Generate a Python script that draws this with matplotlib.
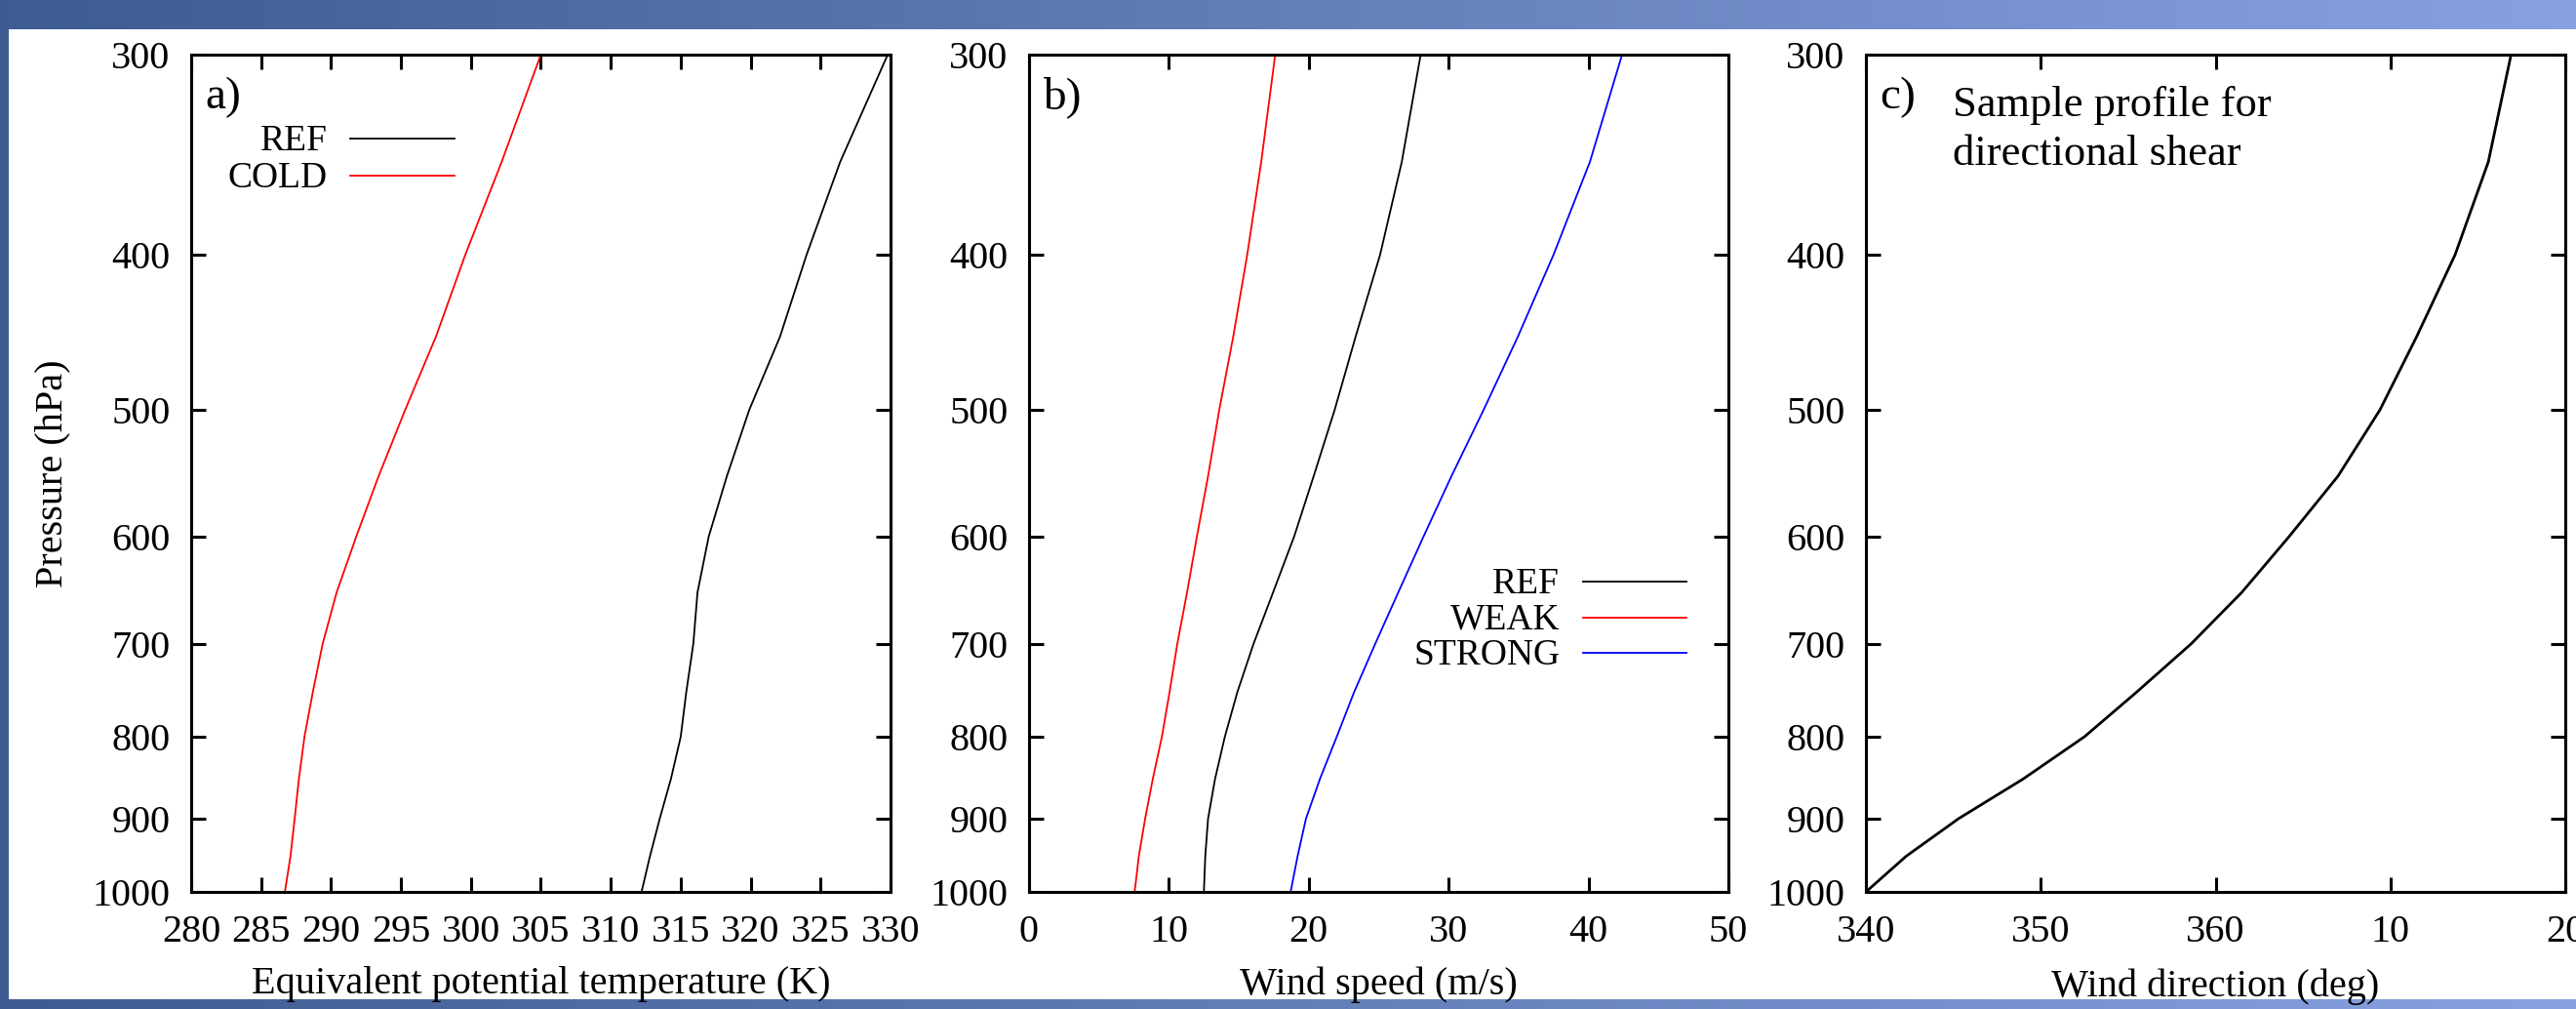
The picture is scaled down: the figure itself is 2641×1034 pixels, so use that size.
import numpy as np
import matplotlib
matplotlib.use("Agg")
import matplotlib.pyplot as plt
from matplotlib.patches import Rectangle
from matplotlib.ticker import FixedLocator, FixedFormatter, NullLocator

plt.rcParams['font.family'] = ['Liberation Serif', 'DejaVu Serif']

# ---------------- data ----------------
pressure = [300, 350, 400, 450, 500, 550, 600, 650, 700, 750, 800, 850, 900, 950, 1000]

theta_e_ref = [329.8, 326.4, 324.0, 322.1, 319.9, 318.3, 317.0, 316.2, 315.9, 315.4,
               315.0, 314.3, 313.5, 312.8, 312.2]
theta_e_cold = [305.0, 302.2, 299.6, 297.5, 295.3, 293.4, 291.8, 290.4, 289.4, 288.7,
                288.1, 287.7, 287.4, 287.1, 286.7]

wspd_ref = [28.0, 26.65, 25.1, 23.35, 21.85, 20.35, 18.95, 17.45, 16.05, 14.9,
            14.0, 13.3, 12.8, 12.6, 12.5]
wspd_weak = [17.6, 16.6, 15.6, 14.6, 13.6, 12.8, 12.0, 11.3, 10.6, 10.05,
             9.5, 8.85, 8.3, 7.85, 7.55]
wspd_strong = [42.4, 40.1, 37.5, 34.95, 32.5, 30.2, 28.2, 26.4, 24.75, 23.25,
               22.0, 20.8, 19.8, 19.2, 18.7]

# compass wind direction (deg), wraps through north
wdir_sample = [16.9, 15.6, 13.7, 11.5, 9.4, 7.0, 4.2, 1.5, 358.6, 355.5,
               352.5, 349.0, 345.3, 342.3, 340.0]

p_ticks = [300, 400, 500, 600, 700, 800, 900, 1000]
theta_ticks = [280, 285, 290, 295, 300, 305, 310, 315, 320, 325, 330]
wspd_ticks = [0, 10, 20, 30, 40, 50]
wdir_ticks = [340, 350, 360, 370, 380]
wdir_ticklabels = ['340', '350', '360', '10', '20']

# ---------------- figure ----------------
W, H = 2641, 1034
fig = plt.figure(figsize=(W / 100, H / 100), dpi=100)

# slide background: blue gradient with white content area
bg = fig.add_axes([0, 0, 1, 1], zorder=-10)
c0 = np.array([0.24, 0.36, 0.57])
c1 = np.array([0.54, 0.63, 0.88])
t = np.linspace(0, 1, 512)[None, :, None]
grad = c0 + (c1 - c0) * t
grad = np.repeat(grad, 2, axis=0)
bg.imshow(grad, aspect='auto', extent=[0, 1, 0, 1], interpolation='bilinear')
bg.add_patch(Rectangle((9 / W, 10 / H), 1 - 9 / W, (H - 30 - 10) / H,
                       facecolor='white', edgecolor='none'))
bg.set_xlim(0, 1)
bg.set_ylim(0, 1)
bg.axis('off')

FS = 29
ax_w = 717 / W
ax_h = 858 / H
ax_b = 120 / H
lefts = [196 / W, 1055 / W, 1913 / W]

axes = [fig.add_axes([l, ax_b, ax_w, ax_h]) for l in lefts]


def style(ax):
    ax.set_yscale('log')
    ax.set_ylim(1000, 300)
    ax.yaxis.set_major_locator(FixedLocator(p_ticks))
    ax.yaxis.set_major_formatter(FixedFormatter([str(v) for v in p_ticks]))
    ax.yaxis.set_minor_locator(NullLocator())
    ax.tick_params(which='major', direction='in', length=10.8, width=2.2,
                   top=True, right=True, labelsize=FS, pad=15.5)
    ax.tick_params(axis='x', pad=16.5)
    for s in ax.spines.values():
        s.set_linewidth(2.2)


lw = 1.3

# panel a
ax = axes[0]
style(ax)
ax.plot(theta_e_ref, pressure, color='black', lw=lw)
ax.plot(theta_e_cold, pressure, color='#ff0000', lw=lw)
ax.set_xlim(280, 330)
ax.set_xticks(theta_ticks)
ax.set_xlabel('Equivalent potential temperature (K)', fontsize=FS)
ax.xaxis.set_label_coords(0.5, -0.089)
ax.set_ylabel('Pressure (hPa)', fontsize=FS)
ax.yaxis.set_label_coords(-0.172, 0.5)

# panel b
ax = axes[1]
style(ax)
ax.plot(wspd_ref, pressure, color='black', lw=lw)
ax.plot(wspd_weak, pressure, color='#ff0000', lw=lw)
ax.plot(wspd_strong, pressure, color='#0000ff', lw=lw)
ax.set_xlim(0, 50)
ax.set_xticks(wspd_ticks)
ax.set_xlabel('Wind speed (m/s)', fontsize=FS)
ax.xaxis.set_label_coords(0.5, -0.089)

# panel c
ax = axes[2]
style(ax)
wdir_unwrapped = np.where(np.array(wdir_sample) < 180, np.array(wdir_sample) + 360,
                          np.array(wdir_sample))
ax.plot(wdir_unwrapped, pressure, color='black', lw=2.0)
ax.set_xlim(340, 380)
ax.set_xticks(wdir_ticks)
ax.set_xticklabels(wdir_ticklabels)
ax.set_xlabel('Wind direction (deg)', fontsize=FS)
ax.xaxis.set_label_coords(0.5, -0.092)

# panel labels
for ax, lab in zip(axes, ['a)', 'b)', 'c)']):
    ax.text(0.02, 0.936, lab, transform=ax.transAxes, fontsize=34,
            ha='left', va='baseline')

axes[2].text(0.124, 0.926, 'Sample profile for', transform=axes[2].transAxes,
             fontsize=32, ha='left', va='baseline')
axes[2].text(0.124, 0.868, 'directional shear', transform=axes[2].transAxes,
             fontsize=32, ha='left', va='baseline')


# gnuplot-style keys (label right-aligned, sample line to the right)
def key(ax, entries, x_text, x0, x1, y_top, dy):
    for i, (lab, col) in enumerate(entries):
        y = y_top - i * dy
        ax.plot([x0, x1], [y, y], transform=ax.transAxes, color=col, lw=lw,
                clip_on=False)
        ax.text(x_text, y - 0.014, lab, transform=ax.transAxes, fontsize=27,
                ha='right', va='baseline')


key(axes[0], [('REF', 'black'), ('COLD', '#ff0000')], 0.195, 0.227, 0.376, 0.900, 0.045)
key(axes[1], [('REF', 'black'), ('WEAK', '#ff0000'), ('STRONG', '#0000ff')],
    0.759, 0.792, 0.940, 0.371, 0.043)

fig.savefig('out.png', dpi=100)
